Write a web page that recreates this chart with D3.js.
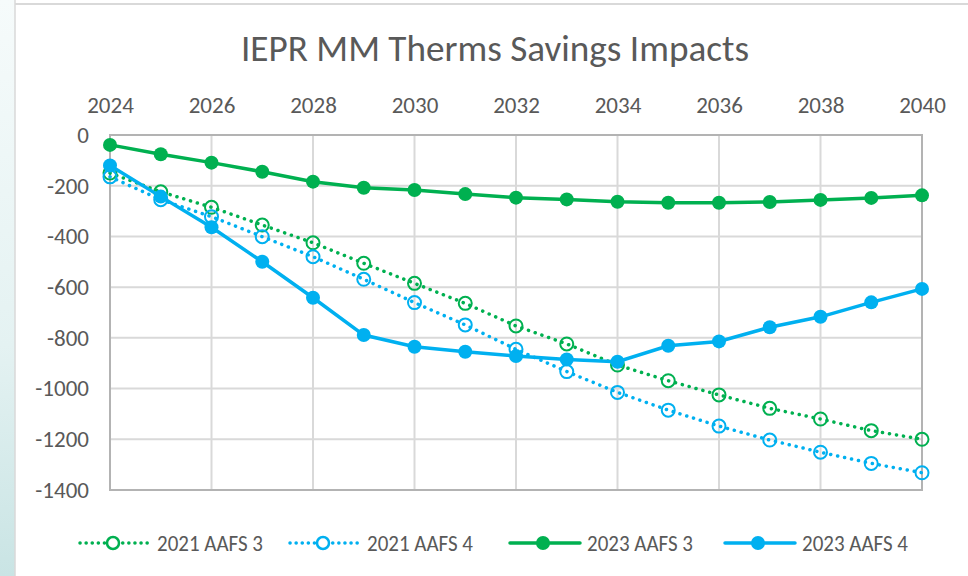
<!DOCTYPE html>
<html>
<head>
<meta charset="utf-8">
<script src="https://cdnjs.cloudflare.com/ajax/libs/d3/7.8.5/d3.min.js"></script>
<style>
  html, body { margin: 0; padding: 0; background: #fff; }
  svg { display: block; font-family: Carlito, Calibri, "Open Sans", sans-serif; }
</style>
</head>
<body>
<div id="chart"></div>
<script>
// chart data
var years = [2024, 2025, 2026, 2027, 2028, 2029, 2030, 2031, 2032, 2033, 2034, 2035, 2036, 2037, 2038, 2039, 2040];
var aafs3_2021 = [-150, -224, -285, -355, -425, -506, -585, -664, -753, -824, -907, -969, -1025, -1078, -1120, -1166, -1200];
var aafs4_2021 = [-165, -255, -322, -401, -480, -569, -661, -749, -845, -933, -1015, -1085, -1148, -1203, -1251, -1295, -1332];
var aafs3_2023 = [-39, -76, -109, -145, -184, -208, -217, -233, -247, -254, -263, -267, -267, -264, -256, -248, -238];
var aafs4_2023 = [-120, -243, -364, -500, -642, -789, -835, -855, -872, -885, -894, -831, -814, -758, -717, -660, -607];
var xTicks = [2024, 2026, 2028, 2030, 2032, 2034, 2036, 2038, 2040];
var yTicks = [0, -200, -400, -600, -800, -1000, -1200, -1400];

var series = [
  { name: '2021 AAFS 3', values: aafs3_2021, color: '#00B050', dotted: true },
  { name: '2021 AAFS 4', values: aafs4_2021, color: '#00B0F0', dotted: true },
  { name: '2023 AAFS 3', values: aafs3_2023, color: '#00B050', dotted: false },
  { name: '2023 AAFS 4', values: aafs4_2023, color: '#00B0F0', dotted: false }
];

var W = 968, H = 576;
var plot = { left: 110, right: 922, top: 135, bottom: 490 };

var svg = d3.select('#chart').append('svg')
  .attr('width', W)
  .attr('height', H);

// slide background bits around the chart
var defs = svg.append('defs');
var grad = defs.append('linearGradient')
  .attr('id', 'side')
  .attr('x1', 0).attr('y1', 0).attr('x2', 0).attr('y2', 1);
grad.append('stop').attr('offset', '0%').attr('stop-color', '#f6fbfb');
grad.append('stop').attr('offset', '60%').attr('stop-color', '#e4f2f2');
grad.append('stop').attr('offset', '100%').attr('stop-color', '#c9e4e4');

svg.append('rect').attr('x', 0).attr('y', 0).attr('width', 15).attr('height', H).attr('fill', 'url(#side)');
svg.append('line').attr('x1', 15).attr('x2', 15).attr('y1', 0).attr('y2', H)
  .attr('stroke', '#d9d9d9').attr('stroke-width', 1.5);
svg.append('line').attr('x1', 15).attr('x2', W).attr('y1', 4).attr('y2', 4)
  .attr('stroke', '#d9d9d9').attr('stroke-width', 2);

var x = d3.scaleLinear().domain([2024, 2040]).range([plot.left, plot.right]);
var y = d3.scaleLinear().domain([-1400, 0]).range([plot.bottom, plot.top]);

// title
svg.append('text')
  .attr('x', 495)
  .attr('y', 61)
  .attr('text-anchor', 'middle')
  .attr('font-size', 36)
  .attr('fill', '#595959')
  .attr('textLength', 508)
  .attr('lengthAdjust', 'spacingAndGlyphs')
  .text('IEPR MM Therms Savings Impacts');

// gridlines
var grid = svg.append('g');
grid.selectAll('line.h')
  .data(yTicks)
  .enter().append('line')
  .attr('x1', plot.left).attr('x2', plot.right)
  .attr('y1', function (d) { return y(d); })
  .attr('y2', function (d) { return y(d); })
  .attr('stroke', '#d9d9d9').attr('stroke-width', 2);
grid.selectAll('line.v')
  .data(xTicks)
  .enter().append('line')
  .attr('y1', plot.top).attr('y2', plot.bottom)
  .attr('x1', function (d) { return x(d); })
  .attr('x2', function (d) { return x(d); })
  .attr('stroke', '#d9d9d9').attr('stroke-width', 2);

// plot border
svg.append('rect')
  .attr('x', plot.left).attr('y', plot.top)
  .attr('width', plot.right - plot.left)
  .attr('height', plot.bottom - plot.top)
  .attr('fill', 'none')
  .attr('stroke', '#b3b3b3').attr('stroke-width', 2);

// axes (labels only, lines are drawn above)
var xAxis = svg.append('g')
  .attr('transform', 'translate(0,' + plot.top + ')')
  .call(d3.axisTop(x).tickValues(xTicks).tickFormat(d3.format('d')).tickSize(0).tickPadding(22));
var yAxis = svg.append('g')
  .attr('transform', 'translate(' + plot.left + ',0)')
  .call(d3.axisLeft(y).tickValues(yTicks).tickFormat(function (d) { return d < 0 ? '-' + Math.abs(d) : d; }).tickSize(0).tickPadding(21));
[xAxis, yAxis].forEach(function (a) {
  a.select('.domain').remove();
  a.selectAll('text')
    .attr('font-family', 'Carlito, Calibri, "Open Sans", sans-serif')
    .attr('font-size', 23)
    .attr('fill', '#595959');
});

// lines and markers
var line = d3.line()
  .x(function (d, i) { return x(years[i]); })
  .y(function (d) { return y(d); });

series.forEach(function (s) {
  var g = svg.append('g');
  g.append('path')
    .attr('d', line(s.values))
    .attr('fill', 'none')
    .attr('stroke', s.color)
    .attr('stroke-width', 3.5)
    .attr('stroke-linecap', 'round')
    .attr('stroke-dasharray', s.dotted ? '0.1 7' : null);
  g.selectAll('circle')
    .data(s.values)
    .enter().append('circle')
    .attr('cx', function (d, i) { return x(years[i]); })
    .attr('cy', function (d) { return y(d); })
    .attr('r', s.dotted ? 6.5 : 7)
    .attr('fill', s.dotted ? 'none' : s.color)
    .attr('stroke', s.color)
    .attr('stroke-width', s.dotted ? 2 : 0);
});

// legend
var legendX = [80, 290, 510, 725];
var legend = svg.append('g').attr('transform', 'translate(0,543)');
series.forEach(function (s, i) {
  var g = legend.append('g').attr('transform', 'translate(' + legendX[i] + ',0)');
  g.append('line')
    .attr('x1', 0).attr('x2', 70)
    .attr('stroke', s.color)
    .attr('stroke-width', 3.5)
    .attr('stroke-linecap', 'round')
    .attr('stroke-dasharray', s.dotted ? '0.1 6' : null);
  g.append('circle')
    .attr('cx', 33).attr('cy', 0)
    .attr('r', s.dotted ? 6 : 7)
    .attr('fill', s.dotted ? 'white' : s.color)
    .attr('stroke', s.color)
    .attr('stroke-width', s.dotted ? 2.5 : 0);
  g.append('text')
    .attr('x', 77)
    .attr('y', 0)
    .attr('dy', '0.35em')
    .attr('font-size', 22)
    .attr('fill', '#595959')
    .attr('textLength', 106)
    .attr('lengthAdjust', 'spacingAndGlyphs')
    .text(s.name);
});
</script>
</body>
</html>
